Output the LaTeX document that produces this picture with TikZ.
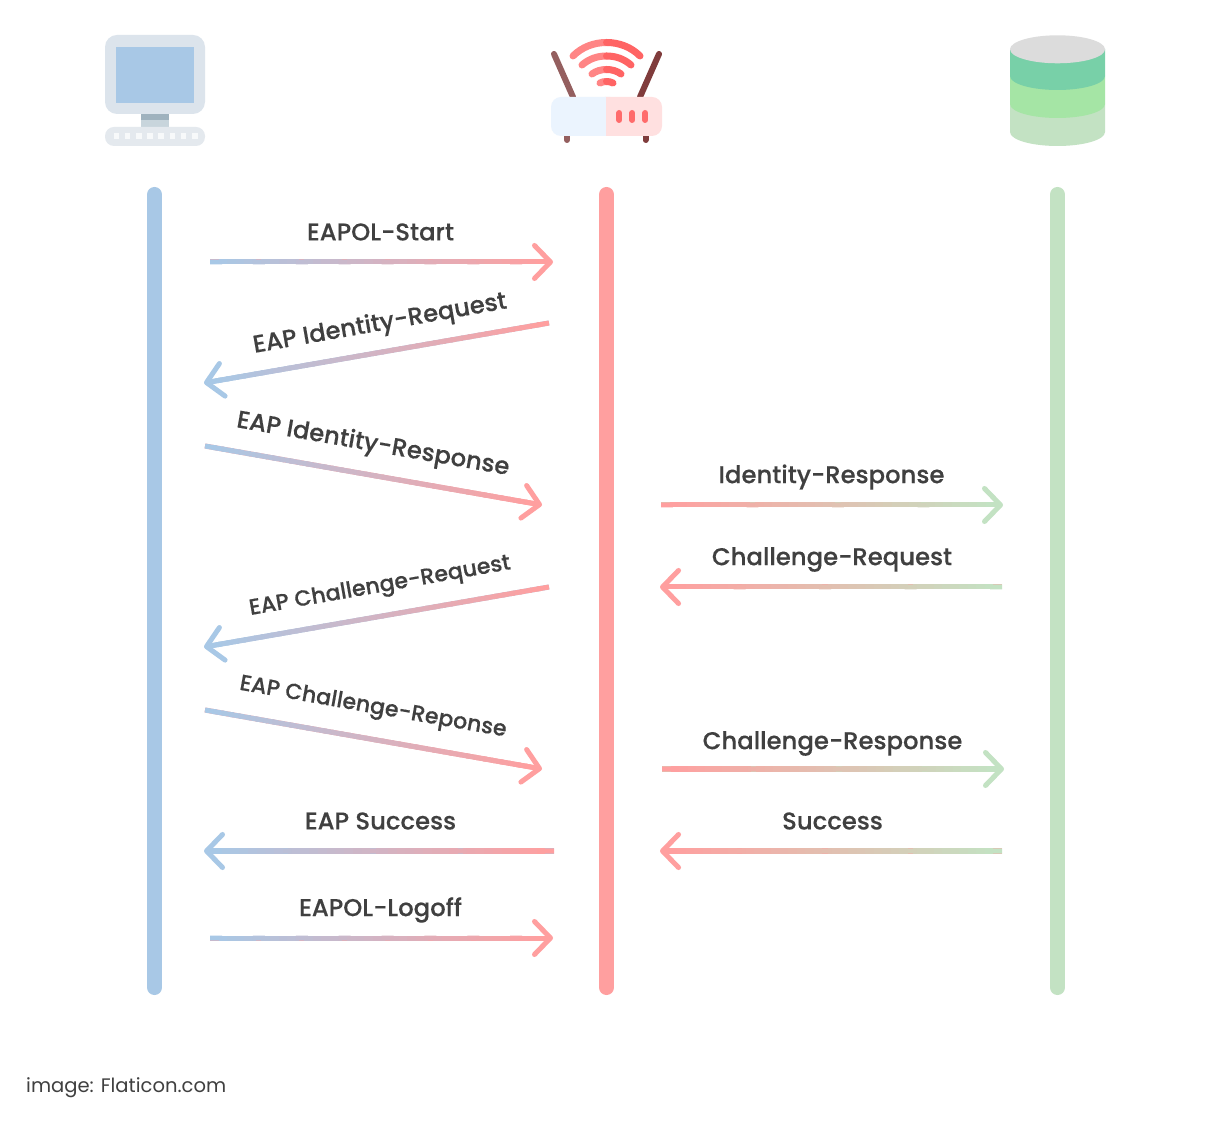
\documentclass[tikz,border=0pt]{standalone}
\usepackage{fontspec}
\setmainfont{Poppins}
\newfontfamily\labelfont{Poppins Medium}[FakeBold=0.25]
\usetikzlibrary{arrows.meta,calc}

\definecolor{clientblue}{HTML}{A8C8E6}
\definecolor{routerred}{HTML}{FF9F9F}
\definecolor{servergreen}{HTML}{C3E2C3}
\definecolor{labelgray}{HTML}{404040}
\definecolor{monitorcase}{HTML}{DCE4EC}
\definecolor{standlight}{HTML}{C8D5DC}
\definecolor{standdark}{HTML}{9FB2BE}
\definecolor{keyboard}{HTML}{E4E9EE}
\definecolor{keycap}{HTML}{F7F9FA}
\definecolor{rodlight}{HTML}{945F5F}
\definecolor{roddark}{HTML}{803C3C}
\definecolor{bodyblue}{HTML}{EBF4FE}
\definecolor{bodypink}{HTML}{FFE0E0}
\definecolor{ledred}{HTML}{FF6B6B}
\definecolor{wifilight}{HTML}{FF8585}
\definecolor{wifidark}{HTML}{FF6464}
\definecolor{dbgray}{HTML}{DCDCDC}
\definecolor{dbteal}{HTML}{78D0A8}
\definecolor{dbgreen}{HTML}{A5E5A5}

\tikzset{
    lifeline/.style={line width=.15cm,line cap=round},
    flow/.style={line width=.05cm,-{Straight Barb[length=.16cm,width=.33cm,round]}},
    flowpart/.style={line width=.05cm},
    msg/.style={font=\labelfont\fontsize{6.92pt}{8pt}\selectfont,text=labelgray,inner sep=0pt},
    msgsmall/.style={font=\labelfont\fontsize{6.3pt}{8pt}\selectfont,text=labelgray,inner sep=0pt},
    wifi/.style={line width=.07cm,line cap=round},
    rod/.style={line width=.06cm,line cap=round},
}

%% gradient connector: from, to, start colour, end colour
\newcommand{\flowarrow}[4]{%
    \draw[flow,draw=#4] (#1) -- (#2);
    \foreach \p in {0,...,38} {
        \pgfmathtruncatemacro{\pp}{\p*100/38}
        \pgfmathsetmacro{\qa}{\p/40}
        \pgfmathsetmacro{\qb}{(\p+1.4)/40}
        \draw[flowpart,draw=#4!\pp!#3] ($(#1)!\qa!(#2)$) -- ($(#1)!\qb!(#2)$);
    }
}

\begin{document}
\begin{tikzpicture}[x=.01cm,y=-.01cm]
    \useasboundingbox (0,0) rectangle (1212,1125);
    \fill[white] (0,0) rectangle (1212,1125);

    %% client icon
    \fill[monitorcase,rounded corners=.12cm] (105,35) rectangle (205,114);
    \fill[clientblue] (116,47) rectangle (194,103);
    \fill[standlight] (141,114) rectangle (169,129);
    \fill[standdark] (141,114) rectangle (169,120);
    \fill[keyboard,rounded corners=.09cm] (105,127) rectangle (205,146);
    \foreach \k in {0,...,7} {
        \fill[keycap] (113.5+\k*11.2,133) rectangle ++(5.6,6);
    }

    %% router icon
    \draw[rod,rodlight] (554,54) -- (573,97);
    \draw[rod,roddark] (659,54) -- (640,97);
    \draw[rod,rodlight] (567,136) -- (567,140);
    \draw[rod,roddark] (645.5,136) -- (645.5,140);
    \fill[bodyblue,rounded corners=.1cm] (551,97) rectangle (620,136);
    \fill[bodypink,rounded corners=.1cm] (595,97) rectangle (662,136);
    \fill[bodyblue] (590,97) rectangle (606,136);
    \draw[rod,ledred] (619.3,113) -- (619.3,120);
    \draw[rod,ledred] (632.3,113) -- (632.3,120);
    \draw[rod,ledred] (645.3,113) -- (645.3,120);
    \draw[wifi,wifilight] (573,56) .. controls (582,47) and (594,42.5) .. (606.5,42.5);
    \draw[wifi,wifidark] (640,56) .. controls (631,47) and (619,42.5) .. (606.5,42.5);
    \draw[wifi,wifilight] (582,65) .. controls (589,59) and (597,56) .. (606.5,56);
    \draw[wifi,wifidark] (631,65) .. controls (624,59) and (616,56) .. (606.5,56);
    \draw[wifi,wifilight] (592,74) .. controls (596,71) and (601,69.5) .. (606.5,69.5);
    \draw[wifi,wifidark] (621,74) .. controls (617,71) and (612,69.5) .. (606.5,69.5);
    \draw[wifi,wifilight] (600,83) .. controls (602,82) and (604,81.5) .. (606.5,81.5);
    \draw[wifi,wifidark] (613,83) .. controls (611,82) and (609,81.5) .. (606.5,81.5);

    %% server icon
    \fill[servergreen] (1010,104) -- (1010,132) .. controls (1010,140) and (1032,146) .. (1057.5,146) .. controls (1083,146) and (1105,140) .. (1105,132) -- (1105,104) -- cycle;
    \fill[dbgreen] (1010,76) -- (1010,104) .. controls (1010,112) and (1032,118) .. (1057.5,118) .. controls (1083,118) and (1105,112) .. (1105,104) -- (1105,76) -- cycle;
    \fill[dbteal] (1010,49) -- (1010,76) .. controls (1010,84) and (1032,90) .. (1057.5,90) .. controls (1083,90) and (1105,84) .. (1105,76) -- (1105,49) -- cycle;
    \fill[dbgray] (1057.5,49.3) ellipse[x radius=47.5,y radius=14];

    %% lifelines
    \coordinate (clientTop) at (154.5,194.5);
    \coordinate (clientEnd) at (154.5,987.5);
    \coordinate (routerTop) at (606.5,194.5);
    \coordinate (routerEnd) at (606.5,987.5);
    \coordinate (serverTop) at (1057.5,194.5);
    \coordinate (serverEnd) at (1057.5,987.5);
    \draw[lifeline,clientblue] (clientTop) -- (clientEnd);
    \draw[lifeline,routerred] (routerTop) -- (routerEnd);
    \draw[lifeline,servergreen] (serverTop) -- (serverEnd);

    %% connector ends
    \coordinate (startFrom) at (210,262);
    \coordinate (startTo) at (553,262);
    \coordinate (idreqFrom) at (549,323);
    \coordinate (idreqTo) at (204,383);
    \coordinate (idrespFrom) at (205,446);
    \coordinate (idrespTo) at (542,505);
    \coordinate (relayFrom) at (661,505);
    \coordinate (relayTo) at (1003,505);
    \coordinate (chalFrom) at (1002,587);
    \coordinate (chalTo) at (660,587);
    \coordinate (eapchalFrom) at (549,587);
    \coordinate (eapchalTo) at (204,647);
    \coordinate (eaprespFrom) at (205,710);
    \coordinate (eaprespTo) at (542,769);
    \coordinate (chrespFrom) at (662,769);
    \coordinate (chrespTo) at (1004,769);
    \coordinate (eapokFrom) at (554,851);
    \coordinate (eapokTo) at (204,851);
    \coordinate (okFrom) at (1002,851);
    \coordinate (okTo) at (660,851);
    \coordinate (logoffFrom) at (210,938);
    \coordinate (logoffTo) at (553,938);

    %% connectors
    \flowarrow{startFrom}{startTo}{clientblue}{routerred}
    \flowarrow{idreqFrom}{idreqTo}{routerred}{clientblue}
    \flowarrow{idrespFrom}{idrespTo}{clientblue}{routerred}
    \flowarrow{relayFrom}{relayTo}{routerred}{servergreen}
    \flowarrow{chalFrom}{chalTo}{servergreen}{routerred}
    \flowarrow{eapchalFrom}{eapchalTo}{routerred}{clientblue}
    \flowarrow{eaprespFrom}{eaprespTo}{clientblue}{routerred}
    \flowarrow{chrespFrom}{chrespTo}{routerred}{servergreen}
    \flowarrow{eapokFrom}{eapokTo}{routerred}{clientblue}
    \flowarrow{okFrom}{okTo}{servergreen}{routerred}
    \flowarrow{logoffFrom}{logoffTo}{clientblue}{routerred}

    %% labels
    \node[msg] (startLabel) at (380.5,232) {EAPOL-Start};
    \node[msg,rotate=10] (idreqLabel) at (380,324.5) {EAP Identity-Request};
    \node[msg,rotate=-10] (idrespLabel) at (373,445) {EAP Identity-Response};
    \node[msg] (relayLabel) at (831.5,477) {Identity-Response};
    \node[msg] (chalLabel) at (832,559.5) {Challenge-Request};
    \node[msgsmall,rotate=10] (eapchalLabel) at (380,587) {EAP Challenge-Request};
    \node[msgsmall,rotate=-10] (eaprespLabel) at (373,708) {EAP Challenge-Reponse};
    \node[msg] (chrespLabel) at (832.5,743.5) {Challenge-Response};
    \node[msg] (eapokLabel) at (380.5,821) {EAP Success};
    \node[msg] (okLabel) at (832.5,821) {Success};
    \node[msg] (logoffLabel) at (380.5,910) {EAPOL-Logoff};

    %% credit
    \node[anchor=west,inner sep=0pt,text=labelgray,font=\fontsize{5.56pt}{7pt}\selectfont] (credit) at (25.5,1088) {image: Flaticon.com};
\end{tikzpicture}
\end{document}
